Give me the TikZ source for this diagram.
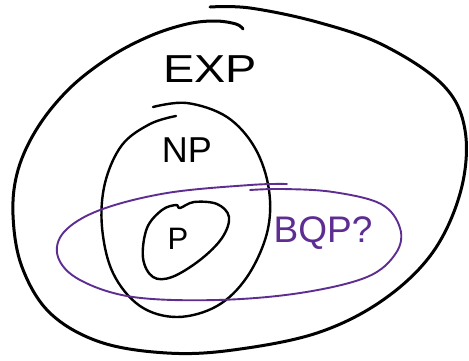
\documentclass[tikz,border=0pt]{standalone}
\usepackage{fontspec}
\setmainfont{Liberation Sans}
\definecolor{bqpcol}{HTML}{5E2D91}
\begin{document}
\begin{tikzpicture}[x=1pt,y=-1pt,
  setline/.style={line width=3pt,line cap=round,line join=round},
  innerline/.style={line width=2.4pt,line cap=round,line join=round},
  bqpline/.style={line width=1.9pt,line cap=round,color=bqpcol},
  lbl/.style={inner sep=0pt,font=\fontsize{#1}{#1}\selectfont}]
\useasboundingbox[fill=white] (0,0) rectangle (469,360);
% EXP
\draw[setline] plot[smooth,tension=0.6] coordinates {
 (243,29) (236,24) (215,21) (187,24) (150,36) (110,57) (70,88) (38,127) (18,170) (13,215)
 (22,267) (50,313) (100,342) (167,353) (233,350) (317,333) (383,300) (433,252)
 (461,190) (465,130) (443,85) (383,45) (317,22) (250,8) (210,7)};
% NP
\draw[innerline] plot[smooth,tension=0.6] coordinates {
 (153,107) (187,103) (227,117) (255,148) (269,190) (267,233) (247,277) (217,306)
 (177,317) (140,306) (113,273) (102,227) (105,183) (122,145) (150,124) (176,116)};
% P
\draw[innerline] plot[smooth cycle,tension=0.6] coordinates {
 (147,228) (143,258) (153,277) (172,277) (200,260) (222,238) (229,217) (217,204)
 (194,202) (180,208) (176,205) (162,210)};
% BQP
\draw[bqpline] plot[smooth,tension=0.6] coordinates {
 (287,184) (250,185) (167,193) (100,210) (64,232) (58,257) (80,280) (133,297)
 (217,300) (300,293) (367,277) (396,253) (400,228) (381,204) (333,192) (283,189) (250,190)};
% labels
\node[lbl=39,xscale=1.2] (exp) at (210,69) {EXP};
\node[lbl=36] (np) at (187,150) {NP};
\node[lbl=31] (p) at (178,239) {P};
\node[lbl=37,text=bqpcol] (bqp) at (323,233) {BQP?};
\end{tikzpicture}
\end{document}
